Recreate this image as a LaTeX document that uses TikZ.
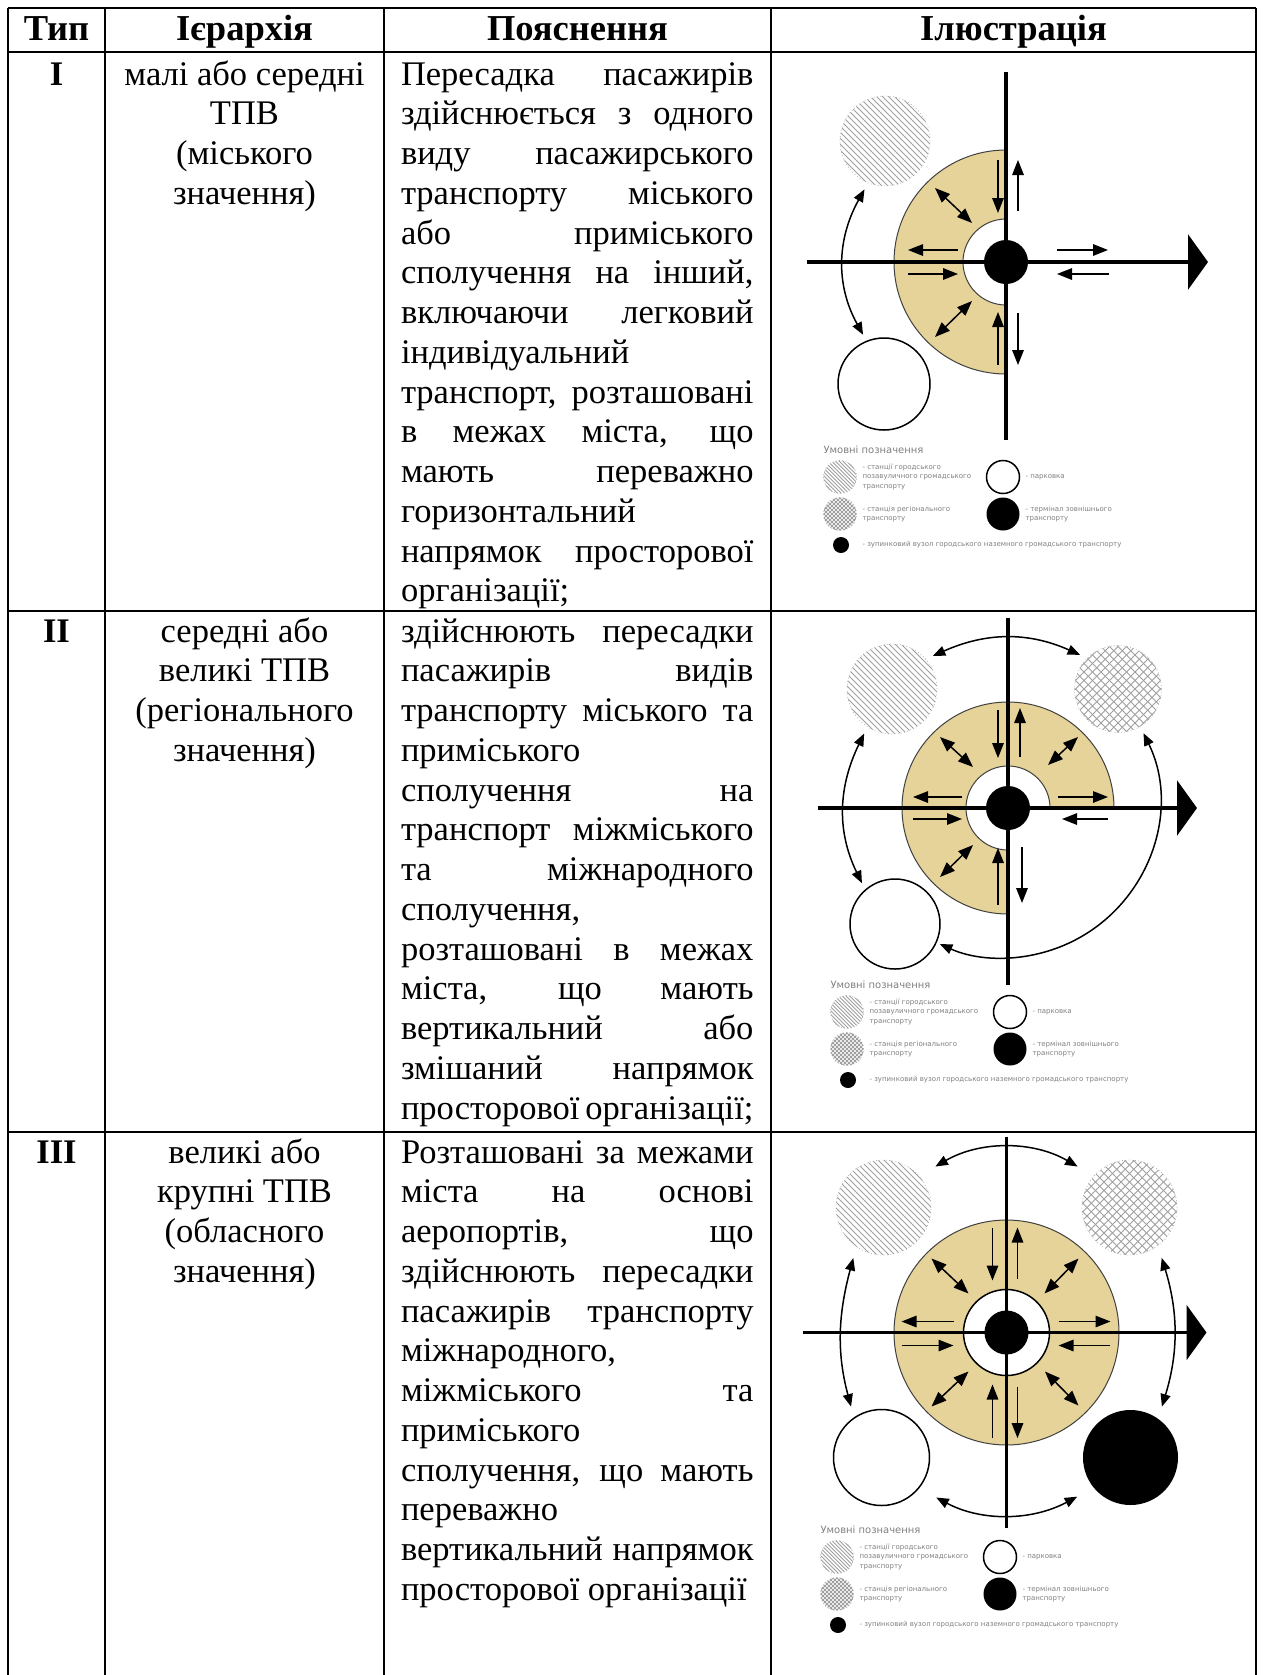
\documentclass[tikz,border=0pt]{standalone}
\usepackage{fontspec}
\setmainfont{Liberation Serif}
\newfontfamily\legendfont{DejaVu Sans}
\usetikzlibrary{arrows.meta}

\definecolor{ringfill}{RGB}{230,211,153}
\newcommand{\jline}[1]{\makebox[141pt][s]{#1}}

% legend of one illustration: #1 suffix, (#2,#3) centre of the first key
\newcommand{\legendset}[3]{%
  \begin{scope}[shift={(#2,#3)}]
    \node[legtitle] (title#1) at (-17,-24) {Умовні позначення};
    \node[hatched,keysize,lined=1.5pt] (keyHatch#1) at (0,0) {};
    \node[legtext] (txtHatch#1) at (22,0) {- станції городського\\позавуличного громадського\\транспорту};
    \node[park,keysize] (keyPark#1) at (163,0) {};
    \node[legtext] (txtPark#1) at (185,0) {- парковка};
    \node[crossed,keysize,meshed=1.6pt] (keyCross#1) at (0,37) {};
    \node[legtext] (txtCross#1) at (22,37) {- станція регіонального\\транспорту};
    \node[term,keysize] (keyTerm#1) at (163,37) {};
    \node[legtext] (txtTerm#1) at (185,37) {- термінал зовнішнього\\транспорту};
    \node[hub,minimum size=6.4pt] (keyStop#1) at (1,68) {};
    \node[legtext] (txtStop#1) at (22,68) {- зупинковий вузол городського наземного громадського транспорту};
  \end{scope}}

\begin{document}
\begin{tikzpicture}[x=0.4pt,y=-0.4pt,
    grid/.style={line width=1pt},
    head/.style={anchor=base,inner sep=0pt,font=\fontsize{14.6pt}{16pt}\selectfont\bfseries},
    num/.style={anchor=base,inner sep=0pt,font=\fontsize{13.8pt}{15.9pt}\selectfont\bfseries},
    cell/.style={anchor=base,inner sep=0pt,font=\fontsize{13.8pt}{15.9pt}\selectfont},
    note/.style={anchor=base west,inner sep=0pt,font=\fontsize{13.8pt}{15.9pt}\selectfont},
    ringline/.style={draw=black!75,line width=0.4pt},
    hatchline/.style={draw=gray!75,solid,line width=0.35pt},
    lined/.style={path picture={\foreach \k in {-20,...,20}
      \draw[hatchline] ([xshift=\k*#1]path picture bounding box.center) ++(-30pt,30pt) -- ++(60pt,-60pt);}},
    meshed/.style={path picture={\foreach \k in {-20,...,20}{
      \draw[hatchline] ([xshift=\k*#1]path picture bounding box.center) ++(-30pt,30pt) -- ++(60pt,-60pt);
      \draw[hatchline] ([xshift=\k*#1]path picture bounding box.center) ++(-30pt,-30pt) -- ++(60pt,60pt);}}},
    hatched/.style={circle,inner sep=0pt,outer sep=3pt,draw=gray!60,densely dotted,line width=0.3pt,lined=2.4pt},
    crossed/.style={circle,inner sep=0pt,outer sep=3pt,draw=gray!60,densely dotted,line width=0.3pt,meshed=3.4pt},
    park/.style={circle,inner sep=0pt,outer sep=3pt,draw,line width=0.6pt,fill=white},
    term/.style={circle,inner sep=0pt,outer sep=3pt,fill=black},
    hub/.style={circle,inner sep=0pt,fill=black,minimum size=17.6pt},
    keysize/.style={minimum size=13.2pt,outer sep=0pt},
    legtitle/.style={anchor=base west,inner sep=0pt,text=gray,font=\legendfont\fontsize{4pt}{5pt}\selectfont},
    legtext/.style={anchor=west,align=left,inner sep=0pt,text=gray,font=\legendfont\fontsize{2.8pt}{3.7pt}\selectfont},
    bar/.style={line width=1.3pt},
    axis/.style={line width=1.3pt,-{Triangle[length=8pt,width=22pt]}},
    flow/.style={line width=0.6pt,-{Triangle[length=6pt,width=4.6pt]}},
    swap/.style={line width=0.6pt,{Triangle[length=6pt,width=4.6pt]}-{Triangle[length=6pt,width=4.6pt]}},
    link/.style={line width=0.6pt,{Triangle[length=5pt,width=4pt]}-{Triangle[length=5pt,width=4pt]}}]

  \useasboundingbox (0,0) rectangle (1262,1675);

  % table rules
  \draw[grid] (8,8) -- (1256,8);
  \draw[grid] (8,52) -- (1256,52);
  \draw[grid] (8,611) -- (1256,611);
  \draw[grid] (8,1132) -- (1256,1132);
  \draw[grid] (8,8) -- (8,1675);
  \draw[grid] (105,8) -- (105,1675);
  \draw[grid] (384,8) -- (384,1675);
  \draw[grid] (771,8) -- (771,1675);
  \draw[grid] (1256,8) -- (1256,1675);

  % header
  \node[head] (hType) at (56.5,40) {Тип};
  \node[head] (hLevel) at (244.5,40) {Ієрархія};
  \node[head] (hNote) at (577.5,40) {Пояснення};
  \node[head] (hPic) at (1013.5,40) {Ілюстрація};

  % row I
  \node[num] (typeI) at (56.5,85) {I};
  \node[cell] (levelI) at (244.5,85) {\parbox[t]{108pt}{\centering малі або середні\\ТПВ\\(міського\\значення)}};
  \node[note] (noteI) at (400.5,85) {\parbox[t]{141pt}{\jline{Пересадка пасажирів}\\
    \jline{здійснюється з одного}\\
    \jline{виду пасажирського}\\
    \jline{транспорту міського}\\
    \jline{або приміського}\\
    \jline{сполучення на інший,}\\
    \jline{включаючи легковий}\\
    індивідуальний\\
    \jline{транспорт, розташовані}\\
    \jline{в межах міста, що}\\
    \jline{мають переважно}\\
    горизонтальний\\
    \jline{напрямок просторової}\\
    організації;}};

  % row II
  \node[num] (typeII) at (56.5,642) {II};
  \node[cell] (levelII) at (244.5,642) {\parbox[t]{108pt}{\centering середні або\\великі ТПВ\\(регіонального\\значення)}};
  \node[note] (noteII) at (400.5,642) {\parbox[t]{141pt}{\jline{здійснюють пересадки}\\
    \jline{пасажирів видів}\\
    \jline{транспорту міського та}\\
    приміського\\
    \jline{сполучення на}\\
    \jline{транспорт міжміського}\\
    \jline{та міжнародного}\\
    сполучення,\\
    \jline{розташовані в межах}\\
    \jline{міста, що мають}\\
    \jline{вертикальний або}\\
    \jline{змішаний напрямок}\\
    просторової організації;}};

  % row III
  \node[num] (typeIII) at (56.5,1163) {III};
  \node[cell] (levelIII) at (244.5,1163) {\parbox[t]{108pt}{\centering великі або\\крупні ТПВ\\(обласного\\значення)}};
  \node[note] (noteIII) at (400.5,1163) {\parbox[t]{141pt}{\jline{Розташовані за межами}\\
    \jline{міста на основі}\\
    \jline{аеропортів, що}\\
    \jline{здійснюють пересадки}\\
    \jline{пасажирів транспорту}\\
    міжнародного,\\
    \jline{міжміського та}\\
    приміського\\
    \jline{сполучення, що мають}\\
    переважно\\
    \jline{вертикальний напрямок}\\
    просторової організації}};

  % illustration I
  \begin{scope}[shift={(1006,262)}]
    \begin{scope}
      \clip (-130,-130) rectangle (0,130);
      \fill[ringfill,even odd rule] (0,0) circle[radius=112] (0,0) circle[radius=43];
      \draw[ringline] (0,0) circle[radius=112] (0,0) circle[radius=43];
    \end{scope}
    \node[hatched,minimum size=36pt] (hatchI) at (-121,-121) {};
    \node[park,minimum size=36.8pt] (parkI) at (-122,122) {};
    \draw[link] (hatchI.247) to[out=241,in=119] (parkI.113);
    \draw[axis] (-199,0) -- (202,0);
    \draw[bar] (0,-190) -- (0,178);
    \node[hub] (hubI) at (0,0) {};
    \draw[flow] (-8,-102) -- (-8,-49);
    \draw[flow] (12,-51) -- (12,-102);
    \draw[swap] (-71,-74) -- (-34,-39);
    \draw[flow] (-48,-12) -- (-98,-12);
    \draw[flow] (-98,12) -- (-48,12);
    \draw[swap] (-34,39) -- (-71,75);
    \draw[flow] (-8,103) -- (-8,50);
    \draw[flow] (12,51) -- (12,103);
    \draw[flow] (51,-12) -- (102,-12);
    \draw[flow] (103,12) -- (51,12);
  \end{scope}
  \legendset{I}{840}{477}

  % illustration II
  \begin{scope}[shift={(1008,808)}]
    \begin{scope}
      \clip (-130,-130) -- (130,-130) -- (130,0) -- (0,0) -- (0,130) -- (-130,130) -- cycle;
      \fill[ringfill,even odd rule] (0,0) circle[radius=106] (0,0) circle[radius=42];
      \draw[ringline] (0,0) circle[radius=106] (0,0) circle[radius=42];
    \end{scope}
    \node[hatched,minimum size=36pt] (hatchII) at (-116,-119) {};
    \node[crossed,minimum size=34.8pt] (crossII) at (110,-119) {};
    \node[park,minimum size=36pt] (parkII) at (-113,116) {};
    \draw[link] (hatchII.39) to[out=24,in=156] (crossII.138);
    \draw[link] (hatchII.238) to[out=244,in=116] (parkII.129);
    \draw[link] (crossII.300) arc[start angle=-26,end angle=114,radius=156];
    \draw[axis] (-190,0) -- (189,0);
    \draw[bar] (0,-190) -- (0,177);
    \node[hub] (hubII) at (0,0) {};
    \draw[flow] (-10,-98) -- (-10,-50);
    \draw[flow] (12,-51) -- (12,-100);
    \draw[swap] (-68,-71) -- (-35,-41);
    \draw[swap] (40,-43) -- (70,-71);
    \draw[flow] (-46,-11) -- (-95,-11);
    \draw[flow] (50,-11) -- (100,-11);
    \draw[flow] (-95,11) -- (-46,11);
    \draw[flow] (100,11) -- (54,11);
    \draw[swap] (-35,37) -- (-68,69);
    \draw[flow] (-10,97) -- (-10,40);
    \draw[flow] (14,39) -- (14,95);
  \end{scope}
  \legendset{II}{847}{1012}

  % illustration III
  \begin{scope}[shift={(1006.5,1332.5)}]
    \fill[ringfill,even odd rule] (0,0) circle[radius=112.5] (0,0) circle[radius=43];
    \draw[ringline] (0,0) circle[radius=112.5];
    \draw[line width=0.6pt] (0,0) circle[radius=43];
    \node[hatched,minimum size=38pt] (hatchIII) at (-123,-125) {};
    \node[crossed,minimum size=38pt] (crossIII) at (123,-125) {};
    \node[park,minimum size=38.4pt] (parkIII) at (-125,125) {};
    \node[term,minimum size=38pt] (termIII) at (124,125) {};
    \draw[link,shorten <=4.5pt,shorten >=4.5pt] (hatchIII.40) to[out=30,in=150] (crossIII.140);
    \draw[link,shorten <=5pt,shorten >=4.5pt] (parkIII.322) to[out=-28,in=208] (termIII.218);
    \draw[link,shorten <=1.6pt,shorten >=1.6pt] (hatchIII.238) to[out=255,in=105] (parkIII.122);
    \draw[link,shorten <=2pt,shorten >=2pt] (crossIII.304) to[out=287,in=73] (termIII.57);
    \draw[axis] (-204,0) -- (200,0);
    \draw[bar] (0,-196) -- (0,195);
    \node[hub] (hubIII) at (0,0) {};
    \draw[flow] (-14,-105) -- (-14,-52);
    \draw[flow] (11,-54) -- (11,-105);
    \draw[swap] (-75,-74) -- (-38,-39);
    \draw[swap] (38,-39) -- (72,-74);
    \draw[flow] (-53,-11) -- (-105,-11);
    \draw[flow] (52,-11) -- (104,-11);
    \draw[flow] (-105,13) -- (-53,13);
    \draw[flow] (103.5,13) -- (52,13);
    \draw[swap] (-38,39) -- (-75,74);
    \draw[swap] (38.5,39) -- (72,73);
    \draw[flow] (-14,105.6) -- (-14,52);
    \draw[flow] (11,54) -- (11,105.6);
  \end{scope}
  \legendset{III}{837}{1557}

\end{tikzpicture}
\end{document}
